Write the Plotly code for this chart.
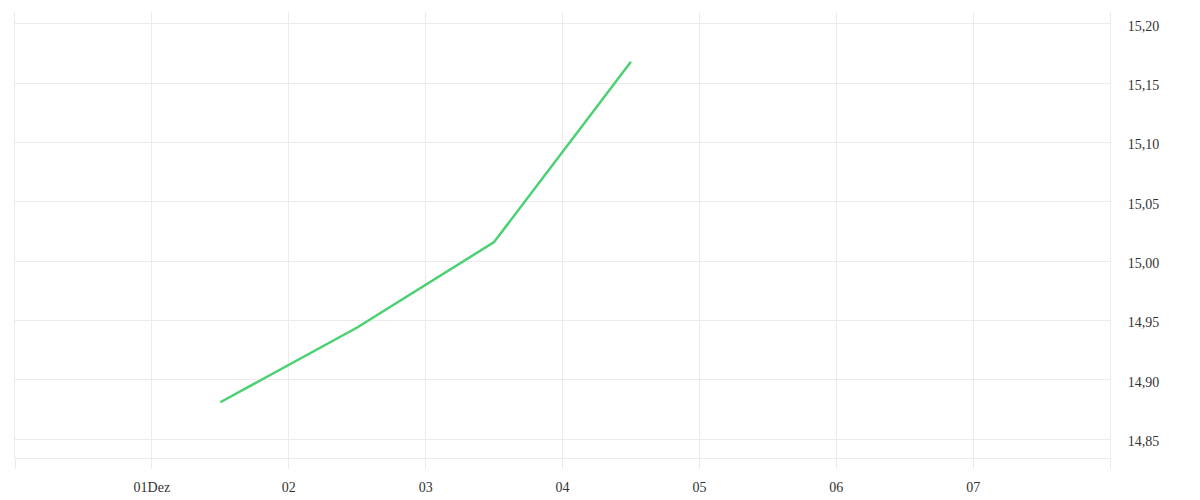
import plotly.graph_objects as go

# price series, one reading per day (midday)
dates = ["2023-12-01 12:00", "2023-12-02 12:00", "2023-12-03 12:00", "2023-12-04 12:00"]
prices = [14.881, 14.944, 15.016, 15.168]

# x axis ticks (edges get a line but no label)
tick_dates = ["2023-11-30", "2023-12-01", "2023-12-02", "2023-12-03", "2023-12-04",
              "2023-12-05", "2023-12-06", "2023-12-07", "2023-12-08"]
tick_labels = ["", "01Dez", "02", "03", "04", "05", "06", "07", ""]

grid = "#ebebeb"
font = dict(family="Liberation Serif", size=14, color="#333333")

fig = go.Figure()
fig.add_trace(go.Scatter(
    x=dates,
    y=prices,
    mode="lines",
    line=dict(color="#4bd072", width=2.5),
    showlegend=False,
))

# page body has an 8px margin, so the figure is sized a bit smaller
fig.update_layout(
    width=1192, height=492,
    margin=dict(l=7, r=90, t=4, b=42),
    paper_bgcolor="white",
    plot_bgcolor="white",
    separators=",.",
    font=font,
    xaxis=dict(
        type="date",
        range=["2023-11-30", "2023-12-08"],
        tickmode="array",
        tickvals=tick_dates,
        ticktext=tick_labels,
        showgrid=True, gridcolor=grid, gridwidth=1,
        showline=True, linecolor=grid, linewidth=1,
        ticks="outside", ticklen=10, tickcolor=grid,
        ticklabelstandoff=6,
        zeroline=False,
    ),
    yaxis=dict(
        side="right",
        range=[14.834, 15.210],
        tickvals=[14.85, 14.90, 14.95, 15.00, 15.05, 15.10, 15.15, 15.20],
        tickformat=".2f",
        showgrid=True, gridcolor=grid, gridwidth=1,
        showline=True, mirror=True, linecolor=grid, linewidth=1,
        ticks="outside", ticklen=14, tickcolor="rgba(0,0,0,0)",
        ticklabelshift=2,
        zeroline=False,
    ),
)

fig.write_html("out.html")
